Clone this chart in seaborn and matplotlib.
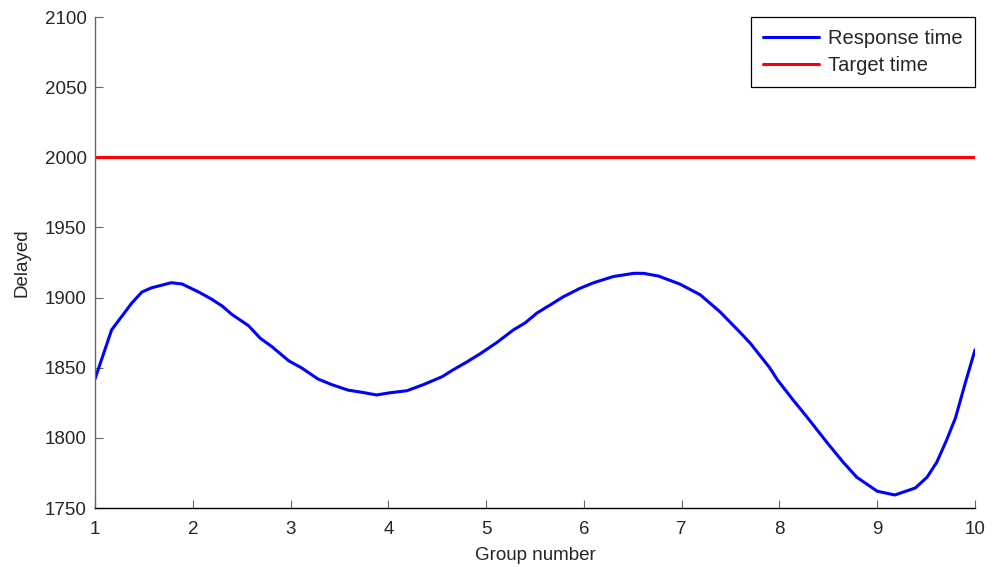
"""Response time vs target time line chart, MATLAB look, drawn with seaborn."""

import matplotlib
matplotlib.use("Agg")
import matplotlib.pyplot as plt
import pandas as pd
import seaborn as sns

# Response time.
group = [1.00, 1.17, 1.375, 1.48, 1.58, 1.78, 1.89, 2.06, 2.19, 2.30, 2.40,
         2.57, 2.69, 2.81, 2.98, 3.11, 3.28, 3.42, 3.59, 3.73, 3.88, 4.02,
         4.19, 4.36, 4.55, 4.66, 4.80, 4.94, 5.11, 5.28, 5.40, 5.52, 5.67,
         5.79, 5.96, 6.10, 6.30, 6.51, 6.61, 6.76, 6.98, 7.19, 7.39, 7.60,
         7.70, 7.90, 7.98, 8.14, 8.28, 8.49, 8.65, 8.79, 9.00, 9.18, 9.39,
         9.51, 9.61, 9.71, 9.80, 9.90, 10.00]
response = [1842, 1877, 1896, 1904, 1907, 1910.6, 1909.7, 1904, 1899, 1894,
            1888, 1880, 1871, 1865, 1855, 1850, 1842, 1838, 1834, 1832.5,
            1830.6, 1832.2, 1833.6, 1838, 1843.6, 1848.4, 1854, 1860, 1868,
            1877, 1882, 1889, 1895.4, 1900.6, 1906.6, 1910.6, 1915, 1917.3,
            1917.3, 1915.4, 1909.7, 1902, 1890, 1875, 1867.6, 1850, 1841.3,
            1827, 1815, 1796.4, 1782.8, 1772, 1762, 1759.3, 1764.3, 1772,
            1782.8, 1798.5, 1814.2, 1839, 1862.7]
target_x = [1, 10]
target = [2000, 2000]

df = pd.DataFrame({"group": group, "delay": response})
df_target = pd.DataFrame({"group": target_x, "delay": target})

sns.set_style("ticks")
plt.rcParams["font.family"] = ["Liberation Sans", "DejaVu Sans"]
plt.rcParams["xtick.direction"] = "in"
plt.rcParams["ytick.direction"] = "in"

fig = plt.figure(figsize=(10, 5.67), dpi=100)
ax = fig.add_axes([0.095, 0.104, 0.88, 0.866])

sns.lineplot(data=df, x="group", y="delay", color="#0000ff", linewidth=2.2,
             label="Response time", ax=ax)
sns.lineplot(data=df_target, x="group", y="delay", color="#ff0000",
             linewidth=2.2, label="Target time", ax=ax)

ax.set_xlim(1, 10)
ax.set_ylim(1750, 2100)
ax.set_xticks(range(1, 11))
ax.set_yticks(range(1750, 2101, 50))
ax.tick_params(labelsize=13.5, length=6, width=0.8, color="#666666")
ax.tick_params(axis="x", pad=9)
ax.tick_params(axis="y", pad=6)
ax.set_xlabel("Group number", fontsize=13.5, labelpad=7)
ax.set_ylabel("Delayed", fontsize=13.5, labelpad=10)

ax.spines["top"].set_visible(False)
ax.spines["right"].set_visible(False)
ax.spines["left"].set_color("#666666")
ax.spines["bottom"].set_color("black")
ax.spines["left"].set_linewidth(1.0)
ax.spines["bottom"].set_linewidth(1.0)

leg = ax.legend(loc="upper right", fontsize=14.5, frameon=True, fancybox=False,
                framealpha=1, edgecolor="black", handlelength=2.8,
                borderaxespad=0.0, borderpad=0.6, handletextpad=0.45,
                labelspacing=0.4)
leg.get_frame().set_linewidth(0.9)

fig.savefig("out.png", dpi=100, facecolor="white")
plt.close(fig)
